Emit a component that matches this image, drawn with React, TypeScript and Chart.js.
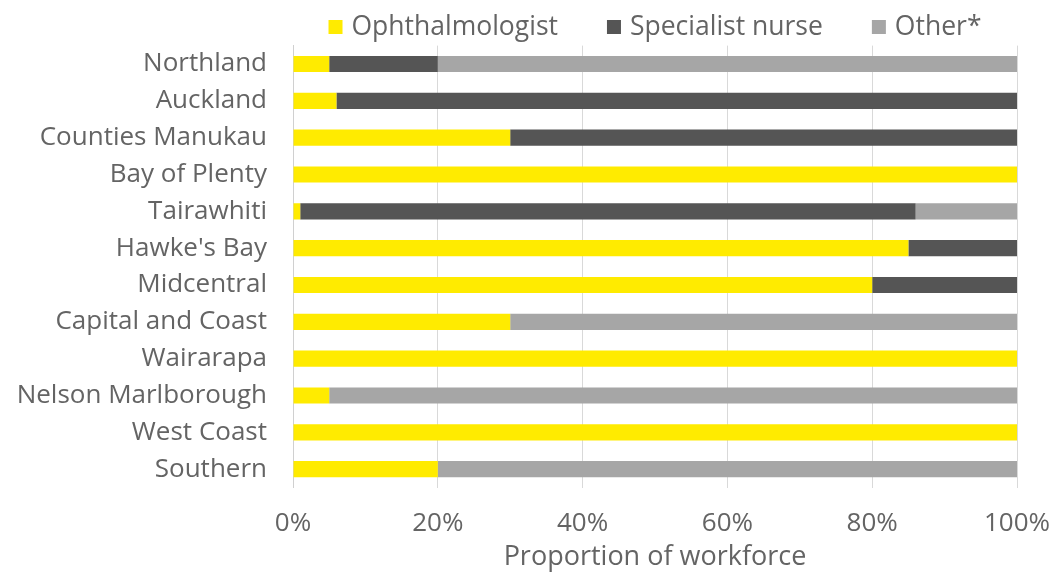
import { useEffect, useRef } from 'react';
import { Chart, registerables } from 'chart.js';
Chart.register(...registerables);

const categories = [
  'Northland', 'Auckland', 'Counties Manukau', 'Bay of Plenty', 'Tairawhiti', "Hawke's Bay",
  'Midcentral', 'Capital and Coast', 'Wairarapa', 'Nelson Marlborough', 'West Coast', 'Southern',
];
const ophthalmologist = [5, 6, 30, 100, 1, 85, 80, 30, 100, 5, 100, 20];
const specialistNurse = [15, 94, 70, 0, 85, 15, 20, 0, 0, 0, 0, 0];
const other = [80, 0, 0, 0, 14, 0, 0, 70, 0, 95, 0, 80];
const seriesNames = ['Ophthalmologist', 'Specialist nurse', 'Other*'];
const seriesColors = ['#FFEB00', '#555555', '#A6A6A6'];
const xTickValues = [0, 20, 40, 60, 80, 100];

const FONT = "'Open Sans', sans-serif";
const TEXT = '#646464';

const legendPlugin = {
  id: 'customLegend',
  afterDraw(chart: any) {
    const { ctx, chartArea } = chart;
    ctx.save();
    ctx.font = `26.5px ${FONT}`;
    const box = 14, gapBoxText = 9, gapItems = 49;
    const widths = seriesNames.map((n) => ctx.measureText(n).width);
    const total = widths.reduce((a, w) => a + box + gapBoxText + w, 0) + gapItems * (seriesNames.length - 1);
    let x = (chartArea.left + chartArea.right) / 2 - total / 2;
    const yc = 27;
    seriesNames.forEach((n, i) => {
      ctx.fillStyle = seriesColors[i];
      ctx.fillRect(x, yc - 7, box, box);
      x += box + gapBoxText;
      ctx.fillStyle = TEXT;
      ctx.textBaseline = 'middle';
      ctx.textAlign = 'left';
      ctx.fillText(n, x, yc);
      x += widths[i] + gapItems;
    });
    ctx.restore();
  },
};

export default function App() {
  const ref = useRef<HTMLCanvasElement>(null);
  useEffect(() => {
    document.body.style.margin = '0';
    const chart = new Chart(ref.current!, {
      type: 'bar',
      data: {
        labels: categories,
        datasets: [ophthalmologist, specialistNurse, other].map((d, i) => ({
          label: seriesNames[i],
          data: d,
          backgroundColor: seriesColors[i],
          barPercentage: 0.44,
          categoryPercentage: 1,
        })),
      },
      options: {
        indexAxis: 'y',
        animation: false,
        responsive: false,
        layout: { padding: { top: 45.6, left: 0, right: 40, bottom: 0 } },
        plugins: { legend: { display: false }, tooltip: { enabled: false } },
        scales: {
          x: {
            stacked: true,
            min: 0,
            max: 100,
            afterBuildTicks: (s: any) => { s.ticks = xTickValues.map((v) => ({ value: v })); },
            ticks: { callback: (v: any) => v + '%', color: TEXT, font: { family: FONT, size: 26 }, padding: 20 },
            grid: { color: '#D9D9D9', drawTicks: false },
            border: { display: false },
            title: { display: true, text: 'Proportion of workforce', color: TEXT, font: { family: FONT, size: 27 }, padding: { top: 0, bottom: -2 } },
            afterFit: (s: any) => { s.height = 84.4; s.paddingLeft = 0; s.paddingRight = 0; },
          },
          y: {
            stacked: true,
            ticks: { color: TEXT, font: { family: FONT, size: 26 }, padding: 26 },
            grid: { display: false, drawTicks: false },
            border: { color: '#D0D0D0' },
            afterFit: (s: any) => { s.width = 293; s.paddingTop = 0; s.paddingBottom = 0; },
          },
        },
      },
      plugins: [legendPlugin],
    });
    return () => chart.destroy();
  }, []);
  return <canvas ref={ref} width={1057} height={572} />;
}
